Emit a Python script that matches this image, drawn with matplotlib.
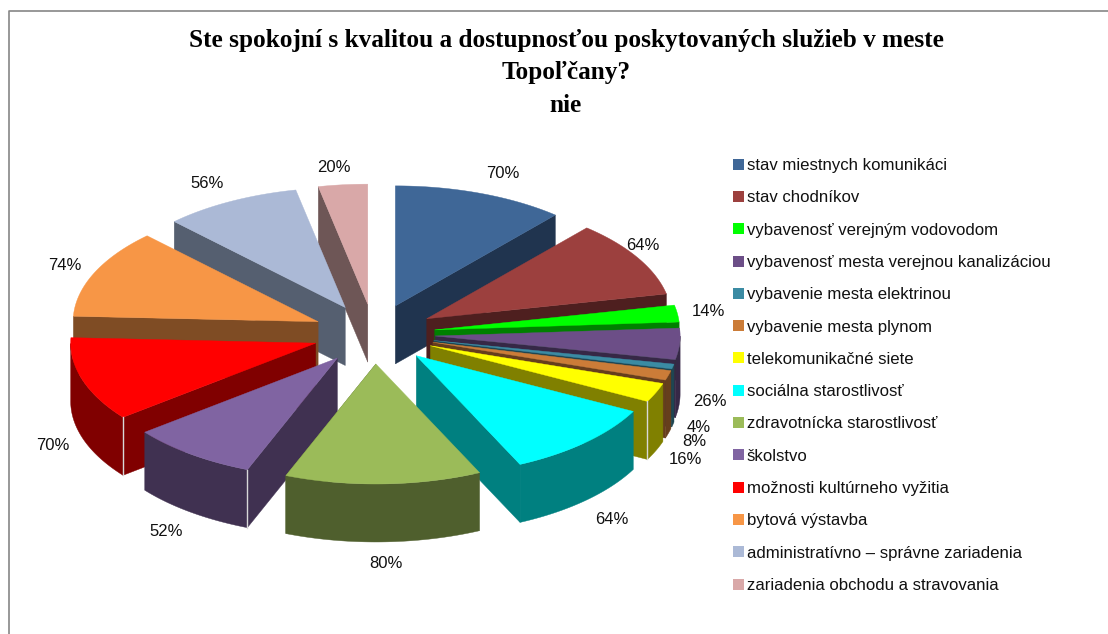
import numpy as np
import matplotlib
matplotlib.use('Agg')
import matplotlib.pyplot as plt
from matplotlib.patches import Patch, Polygon

labels = ['stav miestnych komunikáci', 'stav chodníkov', 'vybavenosť verejným vodovodom',
          'vybavenosť mesta verejnou kanalizáciou', 'vybavenie mesta elektrinou',
          'vybavenie mesta plynom', 'telekomunikačné siete', 'sociálna starostlivosť',
          'zdravotnícka starostlivosť', 'školstvo', 'možnosti kultúrneho vyžitia',
          'bytová výstavba', 'administratívno – správne zariadenia',
          'zariadenia obchodu a stravovania']
values = [70, 64, 14, 26, 4, 8, 16, 64, 80, 52, 70, 74, 56, 20]
top_colors = ['#3F6797', '#9C403E', '#00FF00', '#6C4E87', '#3B8BA3', '#CB7C38', '#FFFF00',
              '#00FFFF', '#9BBB59', '#8064A2', '#FF0000', '#F79646', '#ABB9D6', '#D9A8A8']
wall_colors = ['#20344F', '#4E1F1F', '#008000', '#362846', '#1E4652', '#663E1C', '#808000',
               '#008080', '#4F5F2D', '#403151', '#800000', '#7F4C24', '#555F70', '#6E5656']
label_x = [503, 643, 708, 710, 699, 694, 685, 612, 386, 166, 53, 65, 207, 334]
label_y = [173, 246, 311, 402, 428, 441, 460, 519, 563, 531, 445, 265, 184, 168]

# pie geometry, in pixels
cx, cy = 374, 334
rx, ry = 245, 120
depth = 58
explode = 0.25
seam_slices = [6, 9, 10]

fig = plt.figure(figsize=(11.08, 6.34), dpi=100)
ax = fig.add_axes([0, 0, 1, 1])
ax.set_xlim(0, 1108)
ax.set_ylim(634, 0)
ax.axis('off')

# chart frame, only top and left are visible in the source
ax.plot([9, 9, 1108], [634, 11, 11], color='#868686', lw=1.2)

ax.text(566, 73, 'Ste spokojní s kvalitou a dostupnosťou poskytovaných služieb v meste\nTopoľčany?\nnie',
        ha='center', va='center', fontsize=18.2, weight='bold', family='Liberation Serif',
        linespacing=1.53)

shares = np.array(values) / sum(values) * 2 * np.pi
ends = np.cumsum(shares)
starts = ends - shares
mids = (starts + ends) / 2


def ring(theta, ox, oy, r=1.0):
    return np.column_stack([ox + r * rx * np.sin(theta), oy - r * ry * np.cos(theta)])


# back slices first so the front ones cover them
for i in np.argsort(-np.cos(mids)):
    origin = ring(np.array([mids[i]]), cx, cy, explode)
    ox, oy = origin[0]
    theta = np.linspace(starts[i], ends[i], 60)
    rim = ring(theta, ox, oy)
    down = np.array([0, depth])

    # radial side that faces the viewer
    edge = starts[i] if np.sin(mids[i]) < 0 else ends[i]
    corner = ring(np.array([edge]), ox, oy)
    side = np.vstack([origin, corner, corner + down, origin + down])
    ax.add_patch(Polygon(side, fc=wall_colors[i], ec=wall_colors[i], lw=0.3))

    # outer wall, only the part on the front of the ellipse
    front = theta[np.cos(theta) <= 0]
    if len(front) > 1:
        arc = ring(front, ox, oy)
        wall = np.vstack([arc, (arc + down)[::-1]])
        ax.add_patch(Polygon(wall, fc=wall_colors[i], ec=wall_colors[i], lw=0.3))

    if i in seam_slices:
        ax.plot([corner[0, 0]] * 2, [corner[0, 1], corner[0, 1] + depth], color='#D8D8D8', lw=1)

    ax.add_patch(Polygon(np.vstack([origin, rim]), fc=top_colors[i], ec=top_colors[i], lw=0.3))

for x, y, v in zip(label_x, label_y, values):
    ax.text(x, y, f'{v}%', ha='center', va='center', fontsize=12,
            family='Liberation Sans', color='#111111')

handles = [Patch(fc=c, ec='none', label=l) for c, l in zip(top_colors, labels)]
ax.legend(handles=handles, loc='upper left', bbox_to_anchor=(733, 158), bbox_transform=ax.transData,
          frameon=False, borderpad=0, borderaxespad=0, handlelength=0.63, handleheight=0.63,
          handletextpad=0.2, labelspacing=1.03,
          prop={'family': 'Liberation Sans', 'size': 12.1}, labelcolor='#111111')

fig.savefig('out.png', dpi=100)
